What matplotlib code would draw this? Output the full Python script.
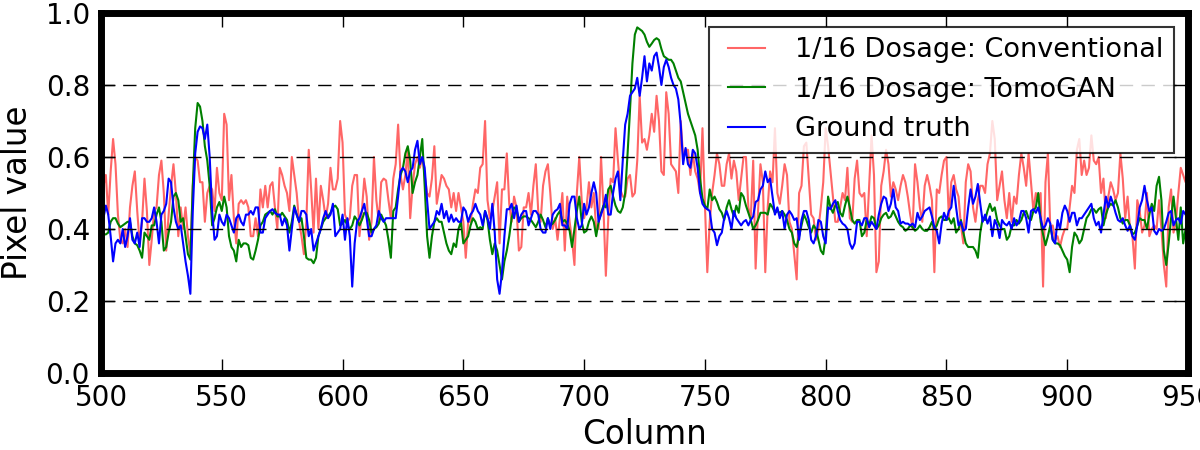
import numpy as np
import matplotlib
matplotlib.use("Agg")
import matplotlib.pyplot as plt

col_start = 500
col_end = 950

conventional = [
    0.46, 0.52, 0.55, 0.44, 0.56, 0.65, 0.58, 0.44, 0.37, 0.36,
    0.40, 0.35, 0.46, 0.52, 0.56, 0.45, 0.36, 0.42, 0.54, 0.45,
    0.30, 0.37, 0.45, 0.46, 0.55, 0.59, 0.50, 0.34, 0.44, 0.52,
    0.58, 0.50, 0.38, 0.46, 0.40, 0.46, 0.38, 0.33, 0.52, 0.60,
    0.59, 0.53, 0.53, 0.42, 0.50, 0.52, 0.51, 0.45, 0.57, 0.50,
    0.48, 0.72, 0.69, 0.48, 0.55, 0.43, 0.36, 0.47, 0.48, 0.47,
    0.48, 0.46, 0.38, 0.38, 0.43, 0.38, 0.51, 0.46, 0.52, 0.46,
    0.52, 0.53, 0.46, 0.40, 0.57, 0.55, 0.52, 0.50, 0.45, 0.60,
    0.55, 0.50, 0.42, 0.38, 0.33, 0.42, 0.62, 0.51, 0.39, 0.54,
    0.40, 0.52, 0.48, 0.43, 0.47, 0.57, 0.51, 0.51, 0.54, 0.70,
    0.64, 0.44, 0.42, 0.43, 0.52, 0.55, 0.55, 0.38, 0.45, 0.54,
    0.49, 0.37, 0.42, 0.60, 0.48, 0.42, 0.53, 0.54, 0.535, 0.48,
    0.43, 0.54, 0.58, 0.69, 0.55, 0.51, 0.55, 0.62, 0.43, 0.52,
    0.58, 0.60, 0.57, 0.60, 0.55, 0.50, 0.49, 0.54, 0.63, 0.47,
    0.51, 0.55, 0.54, 0.52, 0.51, 0.46, 0.50, 0.45, 0.50, 0.46,
    0.42, 0.32, 0.42, 0.42, 0.47, 0.51, 0.50, 0.57, 0.58, 0.70,
    0.48, 0.43, 0.45, 0.49, 0.53, 0.36, 0.51, 0.51, 0.61, 0.47,
    0.42, 0.49, 0.46, 0.34, 0.35, 0.46, 0.46, 0.50, 0.44, 0.52,
    0.58, 0.45, 0.42, 0.52, 0.56, 0.58, 0.50, 0.40, 0.43, 0.37,
    0.43, 0.50, 0.34, 0.49, 0.42, 0.37, 0.30, 0.50, 0.60, 0.48,
    0.43, 0.46, 0.53, 0.46, 0.50, 0.40, 0.40, 0.60, 0.46, 0.27,
    0.43, 0.54, 0.53, 0.68, 0.59, 0.51, 0.49, 0.49, 0.54, 0.55,
    0.49, 0.50, 0.59, 0.77, 0.64, 0.65, 0.62, 0.66, 0.72, 0.67,
    0.77, 0.70, 0.56, 0.55, 0.78, 0.72, 0.58, 0.57, 0.56, 0.50,
    0.70, 0.60, 0.62, 0.62, 0.55, 0.61, 0.56, 0.54, 0.50, 0.68,
    0.47, 0.28, 0.42, 0.50, 0.55, 0.61, 0.58, 0.52, 0.52, 0.58,
    0.61, 0.54, 0.59, 0.56, 0.48, 0.54, 0.60, 0.60, 0.46, 0.43,
    0.59, 0.29, 0.45, 0.58, 0.53, 0.28, 0.46, 0.56, 0.53, 0.68,
    0.50, 0.47, 0.52, 0.58, 0.55, 0.42, 0.40, 0.33, 0.26, 0.50,
    0.52, 0.63, 0.64, 0.54, 0.44, 0.43, 0.37, 0.40, 0.46, 0.53,
    0.68, 0.63, 0.56, 0.49, 0.42, 0.42, 0.46, 0.50, 0.48, 0.57,
    0.43, 0.42, 0.54, 0.59, 0.50, 0.49, 0.50, 0.38, 0.52, 0.66,
    0.55, 0.28, 0.31, 0.52, 0.56, 0.62, 0.58, 0.49, 0.53, 0.51,
    0.48, 0.52, 0.55, 0.53, 0.49, 0.44, 0.40, 0.58, 0.53, 0.46,
    0.42, 0.52, 0.55, 0.52, 0.48, 0.28, 0.51, 0.50, 0.55, 0.59,
    0.60, 0.43, 0.53, 0.55, 0.51, 0.49, 0.41, 0.36, 0.53, 0.58,
    0.56, 0.46, 0.42, 0.48, 0.52, 0.52, 0.50, 0.58, 0.61, 0.70,
    0.65, 0.48, 0.52, 0.56, 0.48, 0.43, 0.50, 0.42, 0.49, 0.47,
    0.55, 0.61, 0.57, 0.52, 0.61, 0.53, 0.45, 0.50, 0.48, 0.50,
    0.24, 0.53, 0.61, 0.40, 0.41, 0.37, 0.38, 0.35, 0.38, 0.40,
    0.40, 0.46, 0.52, 0.50, 0.62, 0.65, 0.55, 0.59, 0.55, 0.57,
    0.66, 0.59, 0.58, 0.60, 0.50, 0.54, 0.43, 0.49, 0.53, 0.51,
    0.48, 0.50, 0.61, 0.54, 0.43, 0.49, 0.40, 0.38, 0.29, 0.48,
    0.45, 0.39, 0.41, 0.50, 0.38, 0.40, 0.41, 0.40, 0.48, 0.40,
    0.30, 0.24, 0.46, 0.51, 0.39, 0.42, 0.50, 0.57, 0.55, 0.53,
    0.56,
]

tomogan = [
    0.39, 0.385, 0.385, 0.39, 0.42, 0.43, 0.43, 0.415, 0.405, 0.41,
    0.415, 0.42, 0.42, 0.38, 0.36, 0.355, 0.34, 0.32, 0.39, 0.38,
    0.37, 0.41, 0.41, 0.44, 0.46, 0.42, 0.34, 0.35, 0.39, 0.42,
    0.49, 0.50, 0.48, 0.42, 0.43, 0.38, 0.33, 0.315, 0.52, 0.68,
    0.75, 0.74, 0.70, 0.63, 0.59, 0.52, 0.41, 0.43, 0.46, 0.475,
    0.45, 0.49, 0.46, 0.38, 0.35, 0.34, 0.31, 0.37, 0.35, 0.36,
    0.36, 0.355, 0.32, 0.315, 0.34, 0.37, 0.41, 0.42, 0.44, 0.445,
    0.45, 0.44, 0.455, 0.435, 0.435, 0.445, 0.435, 0.425, 0.39, 0.42,
    0.465, 0.44, 0.42, 0.43, 0.38, 0.32, 0.315, 0.315, 0.305, 0.32,
    0.38, 0.40, 0.42, 0.43, 0.435, 0.445, 0.46, 0.465, 0.455, 0.41,
    0.415, 0.425, 0.41, 0.40, 0.41, 0.435, 0.425, 0.41, 0.425, 0.445,
    0.445, 0.425, 0.39, 0.40, 0.405, 0.415, 0.44, 0.425, 0.41, 0.37,
    0.32, 0.45, 0.46, 0.51, 0.55, 0.57, 0.61, 0.63, 0.59, 0.50,
    0.53, 0.55, 0.60, 0.65, 0.52, 0.38, 0.32, 0.38, 0.42, 0.43,
    0.42, 0.42, 0.39, 0.36, 0.34, 0.33, 0.36, 0.35, 0.40, 0.42,
    0.36, 0.37, 0.38, 0.41, 0.43, 0.42, 0.40, 0.405, 0.40, 0.45,
    0.425, 0.37, 0.33, 0.36, 0.34, 0.30, 0.26, 0.31, 0.34, 0.38,
    0.43, 0.46, 0.455, 0.42, 0.43, 0.435, 0.435, 0.43, 0.425, 0.415,
    0.405, 0.42, 0.44, 0.425, 0.405, 0.43, 0.41, 0.415, 0.425, 0.44,
    0.45, 0.42, 0.425, 0.415, 0.395, 0.35, 0.40, 0.45, 0.49, 0.42,
    0.39, 0.395, 0.42, 0.435, 0.42, 0.38, 0.42, 0.445, 0.465, 0.46,
    0.51, 0.52, 0.49, 0.465, 0.45, 0.445, 0.46, 0.50, 0.61, 0.73,
    0.86, 0.94, 0.96, 0.955, 0.95, 0.94, 0.92, 0.906, 0.915, 0.925,
    0.93, 0.925, 0.90, 0.88, 0.875, 0.87, 0.87, 0.86, 0.84, 0.82,
    0.81, 0.78, 0.75, 0.72, 0.70, 0.68, 0.66, 0.62, 0.54, 0.485,
    0.465, 0.455, 0.51, 0.48, 0.49, 0.475, 0.455, 0.445, 0.425, 0.46,
    0.48, 0.455, 0.435, 0.465, 0.445, 0.50, 0.49, 0.465, 0.445, 0.425,
    0.40, 0.41, 0.425, 0.445, 0.445, 0.445, 0.44, 0.47, 0.46, 0.445,
    0.45, 0.445, 0.45, 0.44, 0.425, 0.40, 0.39, 0.36, 0.35, 0.38,
    0.41, 0.44, 0.425, 0.405, 0.39, 0.41, 0.40, 0.37, 0.34, 0.33,
    0.38, 0.49, 0.46, 0.445, 0.465, 0.475, 0.445, 0.435, 0.465, 0.49,
    0.46, 0.425, 0.415, 0.425, 0.425, 0.38, 0.39, 0.425, 0.41, 0.435,
    0.43, 0.40, 0.41, 0.43, 0.44, 0.445, 0.43, 0.435, 0.45, 0.435,
    0.42, 0.41, 0.405, 0.395, 0.40, 0.41, 0.405, 0.395, 0.40, 0.41,
    0.40, 0.395, 0.395, 0.405, 0.42, 0.40, 0.41, 0.43, 0.435, 0.425,
    0.425, 0.43, 0.415, 0.43, 0.39, 0.40, 0.425, 0.39, 0.36, 0.35,
    0.35, 0.35, 0.34, 0.32, 0.39, 0.43, 0.425, 0.45, 0.47, 0.45,
    0.46, 0.425, 0.41, 0.40, 0.40, 0.37, 0.38, 0.41, 0.41, 0.425,
    0.415, 0.425, 0.445, 0.45, 0.43, 0.425, 0.45, 0.46, 0.50, 0.42,
    0.385, 0.355, 0.38, 0.41, 0.37, 0.36, 0.36, 0.355, 0.34, 0.325,
    0.315, 0.28, 0.35, 0.39, 0.38, 0.36, 0.37, 0.40, 0.43, 0.44,
    0.455, 0.455, 0.445, 0.455, 0.46, 0.41, 0.44, 0.46, 0.47, 0.465,
    0.48, 0.46, 0.43, 0.415, 0.425, 0.425, 0.41, 0.385, 0.39, 0.41,
    0.43, 0.425, 0.425, 0.40, 0.44, 0.47, 0.45, 0.52, 0.545, 0.48,
    0.34, 0.30, 0.36, 0.43, 0.49, 0.43, 0.37, 0.46, 0.36, 0.40,
    0.42,
]

ground_truth = [
    0.42, 0.43, 0.465, 0.44, 0.38, 0.31, 0.36, 0.37, 0.36, 0.40,
    0.35, 0.38, 0.43, 0.37, 0.36, 0.39, 0.35, 0.43, 0.43, 0.42,
    0.42, 0.43, 0.46, 0.42, 0.36, 0.44, 0.45, 0.47, 0.54, 0.53,
    0.46, 0.42, 0.40, 0.41, 0.36, 0.31, 0.27, 0.22, 0.45, 0.61,
    0.67, 0.685, 0.68, 0.65, 0.69, 0.60, 0.45, 0.37, 0.38, 0.44,
    0.42, 0.41, 0.44, 0.43, 0.41, 0.39, 0.43, 0.44, 0.42, 0.41,
    0.44, 0.44, 0.45, 0.44, 0.46, 0.46, 0.39, 0.39, 0.43, 0.44,
    0.45, 0.455, 0.445, 0.44, 0.44, 0.41, 0.43, 0.41, 0.34, 0.40,
    0.46, 0.44, 0.42, 0.45, 0.45, 0.44, 0.38, 0.40, 0.34, 0.36,
    0.38, 0.40, 0.43, 0.45, 0.43, 0.44, 0.47, 0.38, 0.39, 0.40,
    0.44, 0.37, 0.43, 0.38, 0.24, 0.36, 0.42, 0.43, 0.45, 0.47,
    0.43, 0.38, 0.38, 0.40, 0.41, 0.45, 0.43, 0.42, 0.43, 0.43,
    0.43, 0.43, 0.43, 0.49, 0.56, 0.57, 0.56, 0.53, 0.56, 0.57,
    0.62, 0.645, 0.58, 0.60, 0.57, 0.48, 0.40, 0.41, 0.42, 0.45,
    0.44, 0.47, 0.43, 0.45, 0.42, 0.44, 0.42, 0.43, 0.42, 0.42,
    0.46, 0.45, 0.42, 0.44, 0.45, 0.47, 0.45, 0.44, 0.41, 0.45,
    0.43, 0.40, 0.47, 0.39, 0.26, 0.22, 0.28, 0.38, 0.455, 0.455,
    0.47, 0.43, 0.465, 0.42, 0.44, 0.45, 0.45, 0.41, 0.43, 0.45,
    0.45, 0.44, 0.40, 0.39, 0.39, 0.43, 0.40, 0.44, 0.45, 0.455,
    0.47, 0.41, 0.41, 0.40, 0.47, 0.49, 0.49, 0.43, 0.40, 0.41,
    0.47, 0.44, 0.46, 0.50, 0.53, 0.50, 0.42, 0.44, 0.46, 0.495,
    0.44, 0.44, 0.50, 0.54, 0.56, 0.48, 0.59, 0.69, 0.72, 0.77,
    0.78, 0.79, 0.82, 0.77, 0.82, 0.88, 0.81, 0.86, 0.84, 0.88,
    0.89, 0.85, 0.80, 0.85, 0.87, 0.85, 0.82, 0.80, 0.79, 0.76,
    0.69, 0.58, 0.625, 0.58, 0.57, 0.62, 0.61, 0.57, 0.50, 0.47,
    0.46, 0.455, 0.45, 0.40, 0.39, 0.355, 0.38, 0.39, 0.43, 0.45,
    0.43, 0.40, 0.45, 0.43, 0.42, 0.41, 0.42, 0.425, 0.41, 0.425,
    0.435, 0.475, 0.48, 0.51, 0.52, 0.56, 0.53, 0.54, 0.49, 0.44,
    0.46, 0.43, 0.45, 0.40, 0.44, 0.45, 0.44, 0.425, 0.43, 0.37,
    0.425, 0.45, 0.45, 0.425, 0.37, 0.36, 0.38, 0.425, 0.42, 0.38,
    0.36, 0.46, 0.455, 0.47, 0.48, 0.45, 0.425, 0.415, 0.41, 0.40,
    0.36, 0.345, 0.36, 0.42, 0.42, 0.41, 0.43, 0.43, 0.405, 0.42,
    0.41, 0.40, 0.44, 0.47, 0.49, 0.485, 0.45, 0.47, 0.51, 0.46,
    0.45, 0.415, 0.42, 0.415, 0.415, 0.41, 0.415, 0.405, 0.445, 0.425,
    0.435, 0.45, 0.455, 0.46, 0.435, 0.405, 0.395, 0.36, 0.415, 0.445,
    0.425, 0.45, 0.46, 0.52, 0.46, 0.41, 0.42, 0.395, 0.40, 0.46,
    0.51, 0.47, 0.49, 0.525, 0.47, 0.42, 0.44, 0.415, 0.435, 0.38,
    0.425, 0.41, 0.375, 0.425, 0.415, 0.41, 0.42, 0.40, 0.43, 0.41,
    0.42, 0.45, 0.45, 0.43, 0.39, 0.45, 0.455, 0.445, 0.46, 0.43,
    0.40, 0.41, 0.43, 0.415, 0.37, 0.36, 0.425, 0.40, 0.445, 0.465,
    0.45, 0.42, 0.445, 0.445, 0.41, 0.43, 0.43, 0.44, 0.45, 0.46,
    0.47, 0.43, 0.41, 0.42, 0.39, 0.44, 0.49, 0.46, 0.49, 0.47,
    0.445, 0.425, 0.42, 0.43, 0.41, 0.395, 0.41, 0.38, 0.37, 0.41,
    0.46, 0.48, 0.52, 0.48, 0.45, 0.46, 0.395, 0.385, 0.40, 0.395,
    0.40, 0.42, 0.445, 0.45, 0.41, 0.425, 0.43, 0.415, 0.45, 0.44,
    0.43,
]

labels = ["1/16 Dosage: Conventional", "1/16 Dosage: TomoGAN", "Ground truth"]
xticks = [500, 550, 600, 650, 700, 750, 800, 850, 900, 950]
yticks = [0.0, 0.2, 0.4, 0.6, 0.8, 1.0]

columns = np.arange(col_start, col_start + len(ground_truth))

fig = plt.figure(figsize=(12, 4.5), dpi=100)
ax = fig.add_axes([101 / 1200, 77 / 450, 1087 / 1200, 360 / 450])

ax.plot(columns, conventional, color="#ff6666", lw=1.5, label=labels[0])
ax.plot(columns, tomogan, color="#008000", lw=1.5, label=labels[1])
ax.plot(columns, ground_truth, color="#0000ff", lw=1.5, label=labels[2])

ax.set_xlim(col_start, col_end)
ax.set_ylim(0.0, 1.0)
ax.set_xticks(xticks)
ax.set_yticks(yticks)
ax.set_xticklabels([str(t) for t in xticks])
ax.set_yticklabels(["%.1f" % t for t in yticks])

ax.set_axisbelow(False)
ax.yaxis.grid(True, color="black", linestyle=(0, (9.6, 6)), linewidth=1.0)
ax.xaxis.grid(False)

for sp in ax.spines.values():
    sp.set_linewidth(5)
    sp.set_color("black")

ax.tick_params(axis="both", which="major", direction="in", length=10, width=1,
               top=True, right=True, labelsize=20, pad=8)

ax.set_xlabel("Column", fontsize=23.5, labelpad=4)
ax.set_ylabel("Pixel value", fontsize=23.5, labelpad=8)

leg = ax.legend(loc="upper right", fontsize=19.5, framealpha=0.8, fancybox=False,
                edgecolor="black", numpoints=2, handlelength=2.0, handletextpad=0.8,
                borderpad=0.4, labelspacing=0.5)
leg.get_frame().set_linewidth(1.5)

fig.savefig("out.png", dpi=100)
